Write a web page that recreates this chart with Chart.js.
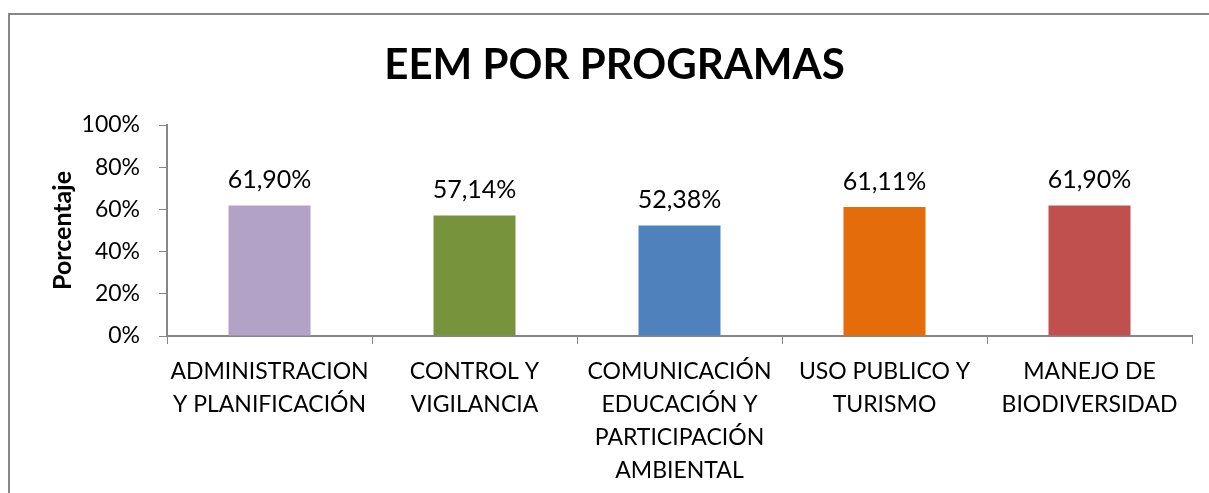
<!DOCTYPE html>
<html>
<head>
<meta charset="utf-8">
<script src="https://cdn.jsdelivr.net/npm/chart.js@4.4.1/dist/chart.umd.min.js"></script>
<style>
  html, body { margin: 0; padding: 0; background: #ffffff; }
  #wrap { position: relative; width: 1209px; height: 493px; }
</style>
</head>
<body>
<div id="wrap"><canvas id="c" width="1209" height="493"></canvas></div>
<script>
// ---- data ----
const categories = [
  ["ADMINISTRACION", "Y PLANIFICACIÓN"],
  ["CONTROL Y", "VIGILANCIA"],
  ["COMUNICACIÓN", "EDUCACIÓN Y", "PARTICIPACIÓN", "AMBIENTAL"],
  ["USO PUBLICO Y", "TURISMO"],
  ["MANEJO DE", "BIODIVERSIDAD"]
];
const values = [0.6190, 0.5714, 0.5238, 0.6111, 0.6190];
const barColors = ["#B3A2C7", "#77933C", "#4F81BD", "#E46C0A", "#C0504D"];
const yTicks = [0, 0.2, 0.4, 0.6, 0.8, 1.0];
const titleText = "EEM POR PROGRAMAS";
const yTitle = "Porcentaje";

const FONT = "Lato, 'Open Sans', sans-serif";
const AXIS_COLOR = "#868686";

function pct(v, d) {
  return (v * 100).toFixed(d).replace(".", ",") + "%";
}

const borderPlugin = {
  id: "outerBorder",
  beforeDraw(chart) {
    const ctx = chart.ctx;
    ctx.save();
    ctx.fillStyle = "#ffffff";
    ctx.fillRect(0, 0, chart.width, chart.height);
    ctx.strokeStyle = "#878787";
    ctx.lineWidth = 2;
    ctx.strokeRect(9, 14, chart.width + 20, chart.height + 20);
    ctx.restore();
  }
};

const dataLabelPlugin = {
  id: "dataLabels",
  afterDatasetsDraw(chart) {
    const ctx = chart.ctx;
    const meta = chart.getDatasetMeta(0);
    ctx.save();
    ctx.font = "25px " + FONT;
    ctx.fillStyle = "#000000";
    ctx.textAlign = "center";
    ctx.textBaseline = "alphabetic";
    meta.data.forEach((bar, i) => {
      const v = chart.data.datasets[0].data[i];
      ctx.fillText(pct(v, 2), bar.x, bar.y - 17);
    });
    ctx.restore();
  }
};

new Chart(document.getElementById("c"), {
  type: "bar",
  data: {
    labels: categories,
    datasets: [{
      data: values,
      backgroundColor: barColors,
      borderWidth: 0,
      categoryPercentage: 1.0,
      barPercentage: 0.4
    }]
  },
  plugins: [borderPlugin, dataLabelPlugin],
  options: {
    responsive: false,
    animation: false,
    devicePixelRatio: 1,
    layout: { padding: { left: 37, right: 17, top: 0, bottom: 0 } },
    plugins: {
      legend: { display: false },
      tooltip: { enabled: false },
      title: {
        display: true,
        text: titleText,
        color: "#000000",
        font: { family: FONT, size: 42, weight: "bold", lineHeight: 1.2 },
        padding: { top: 40, bottom: 34.6 }
      }
    },
    scales: {
      x: {
        grid: {
          display: true,
          drawOnChartArea: false,
          drawTicks: true,
          tickLength: 8,
          color: AXIS_COLOR,
          offset: true
        },
        border: { display: true, color: AXIS_COLOR, width: 2 },
        ticks: {
          color: "#000000",
          font: { family: FONT, size: 23, lineHeight: 1.43 },
          maxRotation: 0,
          minRotation: 0,
          autoSkip: false,
          padding: 11
        },
        afterFit(scale) { scale.height = 493 - 336; }
      },
      y: {
        min: 0,
        max: 1,
        afterBuildTicks(scale) {
          scale.ticks = yTicks.map(v => ({ value: v }));
        },
        grid: {
          display: true,
          drawOnChartArea: false,
          drawTicks: true,
          tickLength: 8,
          color: AXIS_COLOR
        },
        border: { display: true, color: AXIS_COLOR, width: 2 },
        ticks: {
          color: "#000000",
          font: { family: FONT, size: 23 },
          padding: 19,
          callback: (v) => pct(v, 0)
        },
        title: {
          display: true,
          text: yTitle,
          color: "#000000",
          font: { family: FONT, size: 25, weight: "bold" },
          padding: { top: 11, bottom: 0 }
        },
        afterFit(scale) { scale.width = 130; }
      }
    }
  }
});
</script>
</body>
</html>
